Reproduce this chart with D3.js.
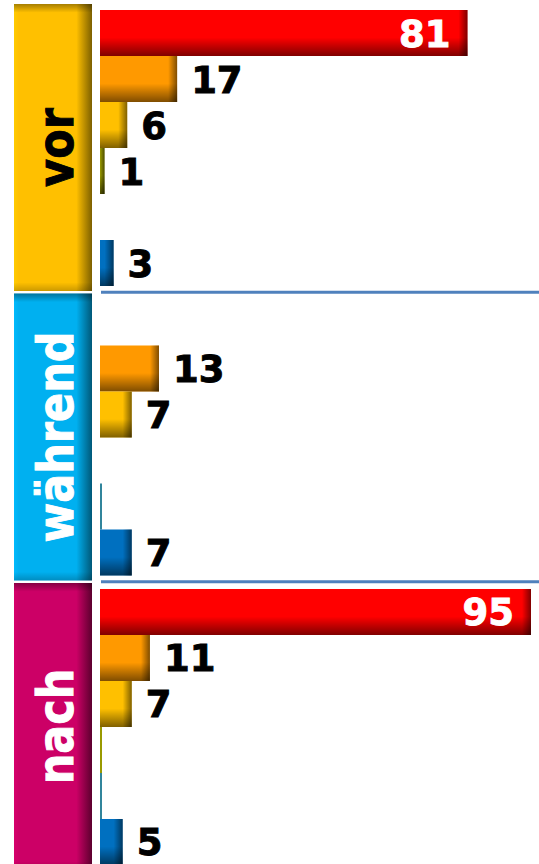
<!DOCTYPE html>
<html>
<head>
<meta charset="utf-8">
<script src="https://cdn.jsdelivr.net/npm/d3@7"></script>
<style>
  html, body { margin: 0; padding: 0; background: #fff; }
  svg { display: block; }
</style>
</head>
<body>
<div id="chart"></div>
<script>
// Data
const groups = ['vor', 'während', 'nach'];
const seriesKeys = ['s1', 's2', 's3', 's4', 's5', 's6'];
const s1 = [81, null, 95];
const s2 = [17, 13, 11];
const s3 = [6, 7, 7];
const s4 = [1, null, 0];
const s5 = [null, 0, 0];
const s6 = [3, 7, 5];
const seriesValues = [s1, s2, s3, s4, s5, s6];

const seriesColors = ['#ff0000', '#ff9900', '#ffc000', '#9a9a00', '#31859c', '#0070c0'];
const groupColors = ['#ffc000', '#00b0f0', '#cc0066'];
const groupDark = ['#7d6000', '#005878', '#5c002e'];
const groupText = ['#000', '#fff', '#fff'];

const width = 539, height = 864;

const svg = d3.select('#chart').append('svg')
  .attr('width', width)
  .attr('height', height);

const defs = svg.append('defs');

// Scales
const y0 = d3.scaleBand().domain(groups).range([4, 870]).paddingInner(0.0086);
const y1 = d3.scaleBand().domain(seriesKeys).range([6, 282]);
const x = d3.scaleLinear().domain([0, 95]).range([100, 531]);

// Gradients for group boxes
groups.forEach((g, i) => {
  const gr = defs.append('linearGradient').attr('id', 'box' + i)
    .attr('x1', 0).attr('x2', 1).attr('y1', 0).attr('y2', 0);
  gr.append('stop').attr('offset', '0%').attr('stop-color', d3.color(groupColors[i]).brighter(0.15));
  gr.append('stop').attr('offset', '6%').attr('stop-color', groupColors[i]);
  gr.append('stop').attr('offset', '80%').attr('stop-color', groupColors[i]);
  gr.append('stop').attr('offset', '100%').attr('stop-color', groupDark[i]);
});
const boxTop = defs.append('linearGradient').attr('id', 'boxTop')
  .attr('x1', 0).attr('x2', 0).attr('y1', 0).attr('y2', 1);
boxTop.append('stop').attr('offset', '0%').attr('stop-color', '#000').attr('stop-opacity', 0.35);
boxTop.append('stop').attr('offset', '3%').attr('stop-color', '#000').attr('stop-opacity', 0);
boxTop.append('stop').attr('offset', '97%').attr('stop-color', '#000').attr('stop-opacity', 0);
boxTop.append('stop').attr('offset', '100%').attr('stop-color', '#000').attr('stop-opacity', 0.2);

// Shading for bars
const barBottom = defs.append('linearGradient').attr('id', 'barBottom')
  .attr('x1', 0).attr('x2', 0).attr('y1', 0).attr('y2', 1);
barBottom.append('stop').attr('offset', '0%').attr('stop-color', '#000').attr('stop-opacity', 0);
barBottom.append('stop').attr('offset', '60%').attr('stop-color', '#000').attr('stop-opacity', 0);
barBottom.append('stop').attr('offset', '100%').attr('stop-color', '#000').attr('stop-opacity', 0.5);
const barRight = defs.append('linearGradient').attr('id', 'barRight')
  .attr('x1', 0).attr('x2', 1).attr('y1', 0).attr('y2', 0);
barRight.append('stop').attr('offset', '0%').attr('stop-color', '#000').attr('stop-opacity', 0);
barRight.append('stop').attr('offset', '100%').attr('stop-color', '#000').attr('stop-opacity', 0.5);

// Group boxes and labels
const gGroup = svg.append('g').selectAll('g')
  .data(groups)
  .enter().append('g')
  .attr('transform', d => `translate(0,${y0(d)})`);

gGroup.append('rect')
  .attr('x', 14).attr('y', 0)
  .attr('width', 78).attr('height', y0.bandwidth())
  .attr('fill', (d, i) => `url(#box${i})`);
gGroup.append('rect')
  .attr('x', 14).attr('y', 0)
  .attr('width', 78).attr('height', y0.bandwidth())
  .attr('fill', 'url(#boxTop)');

gGroup.append('text')
  .attr('transform', `translate(72.5,${y0.bandwidth() / 2}) rotate(-90) scale(0.86,1)`)
  .attr('text-anchor', 'middle')
  .attr('font-family', 'DejaVu Sans, Verdana, sans-serif')
  .attr('font-weight', 'bold')
  .attr('font-size', '50px')
  .attr('fill', (d, i) => groupText[i])
  .attr('stroke', (d, i) => groupText[i])
  .attr('stroke-width', 1)
  .text(d => d);

// Separator lines
svg.append('g').selectAll('line')
  .data(groups.slice(0, -1))
  .enter().append('line')
  .attr('x1', 101).attr('x2', width)
  .attr('y1', d => y0(d) + y0.bandwidth() + 1.2)
  .attr('y2', d => y0(d) + y0.bandwidth() + 1.2)
  .attr('stroke', '#4f81bd')
  .attr('stroke-width', 3);

// Bars
const barData = [];
groups.forEach((g, gi) => {
  seriesKeys.forEach((k, si) => {
    const v = seriesValues[si][gi];
    if (v !== null) barData.push({ group: g, key: k, si, value: v });
  });
});

const bars = svg.append('g').selectAll('g')
  .data(barData)
  .enter().append('g')
  .attr('transform', d => `translate(0,${y0(d.group) + y1(d.key)})`);

const bw = d => Math.max(2, x(d.value) - x(0));

bars.append('rect')
  .attr('x', x(0)).attr('y', 0)
  .attr('width', bw).attr('height', y1.bandwidth())
  .attr('fill', d => seriesColors[d.si]);

bars.filter(d => d.value > 0).append('rect')
  .attr('x', x(0)).attr('y', 0)
  .attr('width', bw).attr('height', y1.bandwidth())
  .attr('fill', 'url(#barBottom)');

bars.filter(d => d.value > 0).append('rect')
  .attr('x', d => x(0) + bw(d) - Math.min(9, bw(d)))
  .attr('y', 0)
  .attr('width', d => Math.min(9, bw(d)))
  .attr('height', y1.bandwidth())
  .attr('fill', 'url(#barRight)');

// Value labels
bars.filter(d => d.value > 0).append('text')
  .attr('x', d => d.si === 0 ? x(d.value) - 17 : x(d.value) + 14)
  .attr('y', y1.bandwidth() / 2)
  .attr('dy', '0.365em')
  .attr('text-anchor', d => d.si === 0 ? 'end' : 'start')
  .attr('font-family', 'DejaVu Sans, Verdana, sans-serif')
  .attr('font-weight', 'bold')
  .attr('font-size', '37px')
  .attr('fill', d => d.si === 0 ? '#fff' : '#000')
  .attr('stroke', d => d.si === 0 ? '#fff' : '#000')
  .attr('stroke-width', 0.9)
  .text(d => d.value);
</script>
</body>
</html>
